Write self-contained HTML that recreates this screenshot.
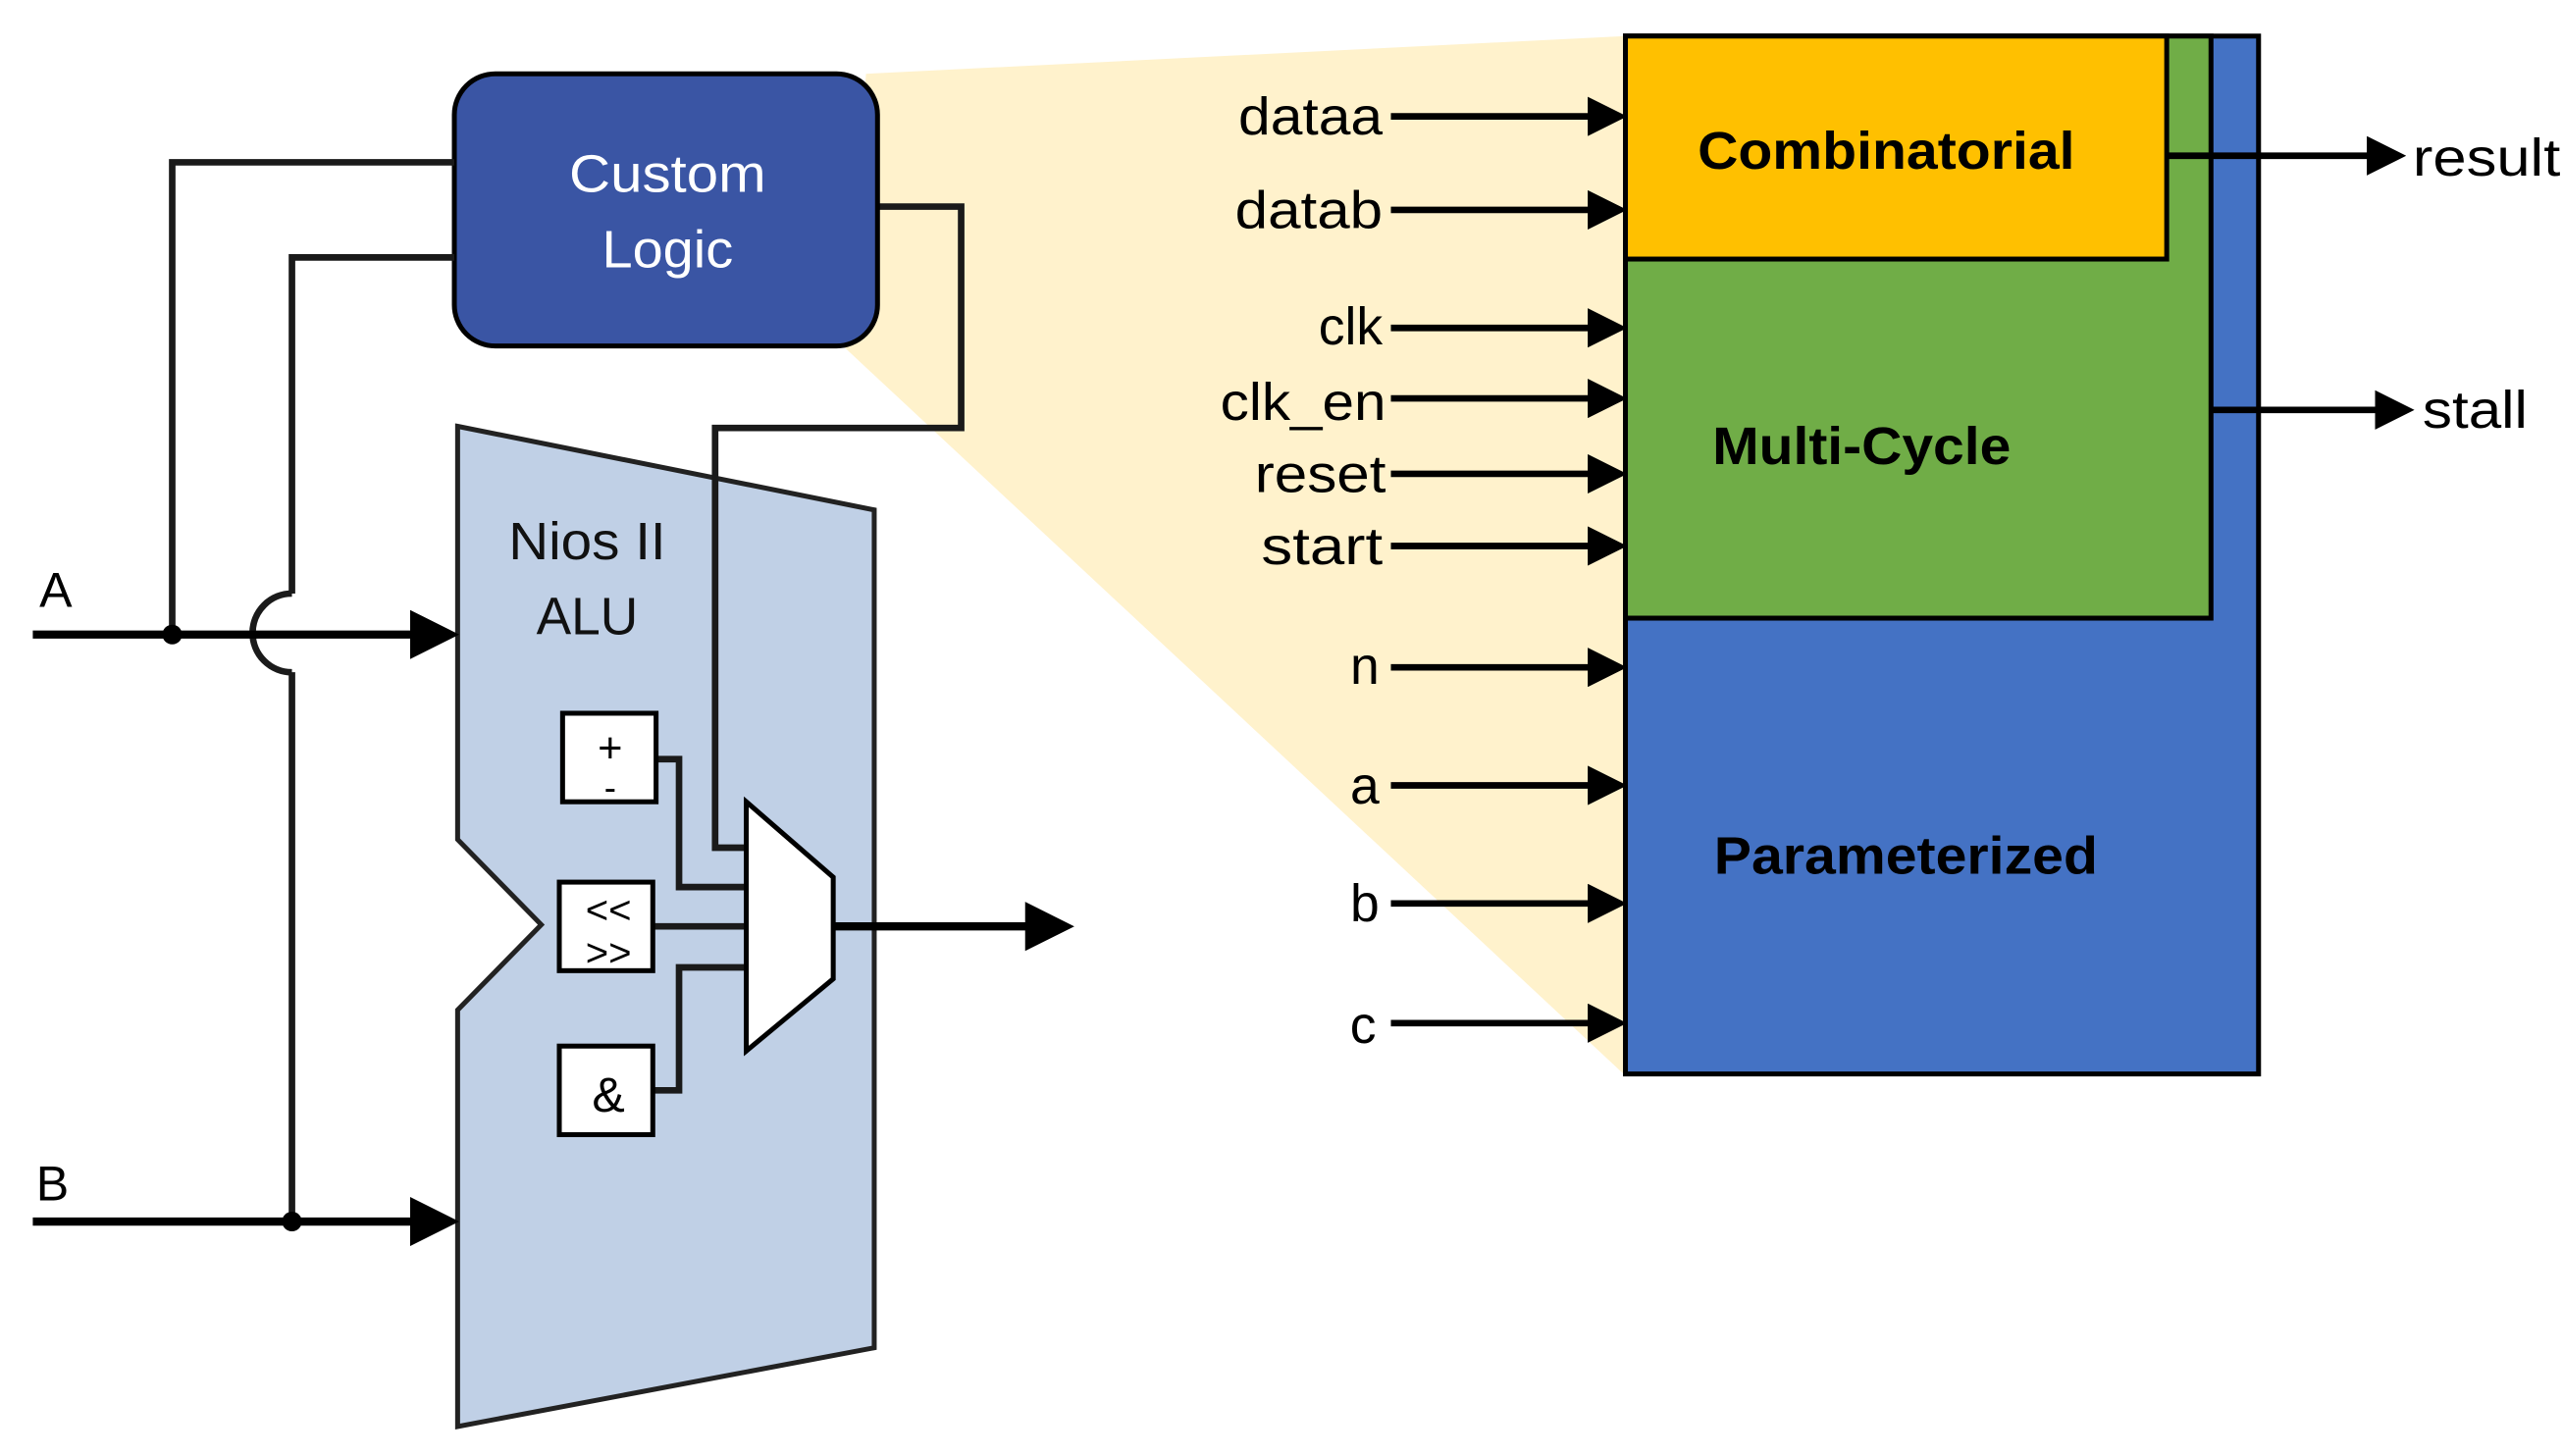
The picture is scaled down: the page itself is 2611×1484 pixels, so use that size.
<!DOCTYPE html>
<html><head><meta charset="utf-8"><style>html,body{margin:0;padding:0;background:#fff}svg{display:block}</style></head>
<body>
<svg width="2611" height="1484" viewBox="0 0 1562 888" preserveAspectRatio="none" xmlns="http://www.w3.org/2000/svg" font-family="'Liberation Sans', sans-serif">
<defs>
<marker id="ah" markerWidth="6" markerHeight="6" refX="1" refY="3" orient="auto" markerUnits="strokeWidth"><path d="M0,0 L6,3 L0,6 Z" fill="#000"/></marker>
</defs>
<!-- zoom wedge -->
<polygon points="528,45 991,22 991,656 515,212" fill="#FFF2CC"/>
<!-- right box -->
<rect x="991" y="22" width="386" height="633" fill="#4472C4" stroke="#000" stroke-width="3"/>
<rect x="991" y="22" width="357" height="355" fill="#70AD47" stroke="#000" stroke-width="3"/>
<rect x="991" y="22" width="330" height="136" fill="#FFC000" stroke="#000" stroke-width="3"/>
<g font-weight="bold" font-size="32" fill="#000">
<text x="1150" y="103" text-anchor="middle" textLength="230" lengthAdjust="spacingAndGlyphs">Combinatorial</text>
<text x="1135" y="283" text-anchor="middle" textLength="182" lengthAdjust="spacingAndGlyphs">Multi-Cycle</text>
<text x="1162" y="533" text-anchor="middle" textLength="234" lengthAdjust="spacingAndGlyphs">Parameterized</text>
</g>
<g stroke="#000" stroke-width="4" fill="none">
<line x1="1321" y1="95" x2="1447" y2="95" marker-end="url(#ah)"/>
<line x1="1348" y1="250" x2="1452" y2="250" marker-end="url(#ah)"/>
<line x1="848" y1="71" x2="972" y2="71" marker-end="url(#ah)"/>
<line x1="848" y1="128" x2="972" y2="128" marker-end="url(#ah)"/>
<line x1="848" y1="200" x2="972" y2="200" marker-end="url(#ah)"/>
<line x1="848" y1="243" x2="972" y2="243" marker-end="url(#ah)"/>
<line x1="848" y1="289" x2="972" y2="289" marker-end="url(#ah)"/>
<line x1="848" y1="333" x2="972" y2="333" marker-end="url(#ah)"/>
<line x1="848" y1="407" x2="972" y2="407" marker-end="url(#ah)"/>
<line x1="848" y1="479" x2="972" y2="479" marker-end="url(#ah)"/>
<line x1="848" y1="551" x2="972" y2="551" marker-end="url(#ah)"/>
<line x1="848" y1="624" x2="972" y2="624" marker-end="url(#ah)"/>
</g>
<g font-size="32" fill="#000" text-anchor="end">
<text x="843" y="82" textLength="88" lengthAdjust="spacingAndGlyphs">dataa</text>
<text x="843" y="139" textLength="90" lengthAdjust="spacingAndGlyphs">datab</text>
<text x="843" y="210">clk</text>
<text x="845" y="256" textLength="101" lengthAdjust="spacingAndGlyphs">clk_en</text>
<text x="845" y="300" textLength="80" lengthAdjust="spacingAndGlyphs">reset</text>
<text x="843" y="344" textLength="74" lengthAdjust="spacingAndGlyphs">start</text>
<text x="841" y="417">n</text>
<text x="841" y="490">a</text>
<text x="841" y="562">b</text>
<text x="839" y="636">c</text>
</g>
<g font-size="32" fill="#000">
<text x="1471" y="107" textLength="90" lengthAdjust="spacingAndGlyphs">result</text>
<text x="1477" y="261" textLength="64" lengthAdjust="spacingAndGlyphs">stall</text>
</g>
<!-- ALU -->
<polygon points="279,260 533,311 533,822 279,870 279,616 330,564 279,512" fill="#C0D0E6" stroke="#222" stroke-width="3"/>
<g font-size="32" fill="#111" text-anchor="middle">
<text x="358" y="341" textLength="96" lengthAdjust="spacingAndGlyphs">Nios II</text>
<text x="358" y="387" textLength="62" lengthAdjust="spacingAndGlyphs">ALU</text>
</g>
<g stroke="#1a1a1a" stroke-width="4" fill="none">
<polyline points="400,463 414,463 414,541 456,541"/>
<line x1="398" y1="565" x2="456" y2="565"/>
<polyline points="398,665 414,665 414,590 456,590"/>
<polyline points="535,126 586,126 586,261 436,261 436,517 456,517"/>
</g>
<rect x="343" y="435" width="57" height="54" fill="#fff" stroke="#000" stroke-width="3"/>
<rect x="341" y="538" width="57" height="54" fill="#fff" stroke="#000" stroke-width="3"/>
<rect x="341" y="638" width="57" height="54" fill="#fff" stroke="#000" stroke-width="3"/>
<g font-size="26" fill="#000" text-anchor="middle">
<text x="372" y="465">+</text>
<text x="372" y="488" font-size="22">-</text>
<text x="371" y="563" font-size="24">&lt;&lt;</text>
<text x="371" y="589" font-size="24">&gt;&gt;</text>
<text x="371" y="678" font-size="30">&amp;</text>
</g>
<polygon points="455,489 508,535 508,597 455,641" fill="#fff" stroke="#000" stroke-width="3"/>
<line x1="508" y1="565" x2="630" y2="565" stroke="#000" stroke-width="5" marker-end="url(#ah)"/>
<!-- Custom logic -->
<rect x="277" y="45" width="258" height="166" rx="25" fill="#3A55A4" stroke="#000" stroke-width="3"/>
<g font-size="32" fill="#fff" text-anchor="middle">
<text x="407" y="117" textLength="120" lengthAdjust="spacingAndGlyphs">Custom</text>
<text x="407" y="163" textLength="80" lengthAdjust="spacingAndGlyphs">Logic</text>
</g>
<!-- A & B -->
<g stroke="#1a1a1a" stroke-width="4" fill="none">
<polyline points="277,99 105,99 105,387"/>
<polyline points="277,157 178,157 178,362"/>
<path d="M178,362 A24,24 0 0 0 178,410"/>
<line x1="178" y1="410" x2="178" y2="745"/>
</g>
<line x1="20" y1="387" x2="255" y2="387" stroke="#000" stroke-width="5" marker-end="url(#ah)"/>
<line x1="20" y1="745" x2="255" y2="745" stroke="#000" stroke-width="5" marker-end="url(#ah)"/>
<circle cx="105" cy="387" r="6" fill="#000"/>
<circle cx="178" cy="745" r="6" fill="#000"/>
<g font-size="30" fill="#000">
<text x="24" y="370">A</text>
<text x="22" y="732">B</text>
</g>
</svg>
</body></html>
